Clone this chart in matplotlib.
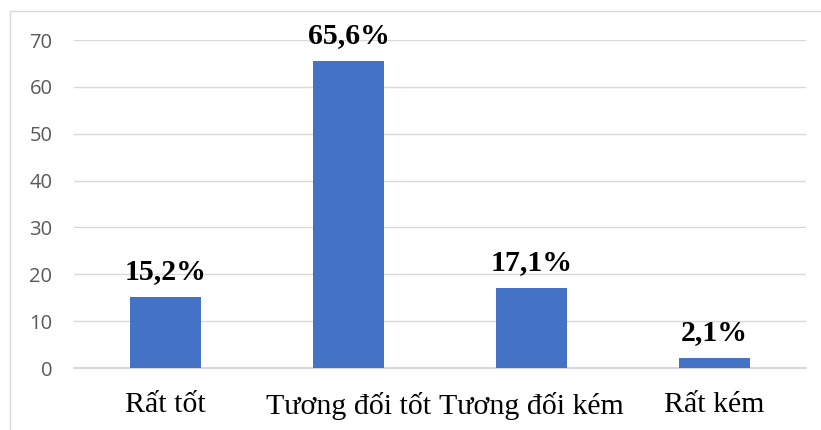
import matplotlib.pyplot as plt
from matplotlib.patches import Rectangle

categories = ['Rất tốt', 'Tương đối tốt', 'Tương đối kém', 'Rất kém']
values = [15.2, 65.6, 17.1, 2.1]
labels = ['15,2%', '65,6%', '17,1%', '2,1%']
yticks = [0, 10, 20, 30, 40, 50, 60, 70]

fig = plt.figure(figsize=(8.21, 4.30), dpi=100)
ax = fig.add_axes([74 / 821, 1 - 368 / 430, 732 / 821, 328 / 430])

x = list(range(len(categories)))
ax.bar(x, values, width=0.39, color='#4472C4', zorder=3)
for xi, v, lab in zip(x, values, labels):
    ax.annotate(lab, (xi, v), xytext=(0, 13), textcoords='offset points',
                ha='center', va='baseline', fontsize=21.5, fontweight='bold',
                family='Liberation Serif', color='black')

ax.set_xlim(-0.5, len(categories) - 0.5)
ax.set_ylim(0, 70)
ax.set_yticks(yticks)
ax.set_yticklabels([str(t) for t in yticks], fontsize=14.5, color='#595959',
                   family='Open Sans')
ax.set_xticks(x)
ax.set_xticklabels(categories, fontsize=21.5, family='Liberation Serif')
ax.tick_params(axis='both', length=0)
ax.tick_params(axis='y', pad=15.5)
ax.tick_params(axis='x', pad=17)
ax.grid(axis='y', color='#d9d9d9', linewidth=1, zorder=0)
for s in ['top', 'right', 'left']:
    ax.spines[s].set_visible(False)
ax.spines['bottom'].set_color('#d9d9d9')
ax.spines['bottom'].set_linewidth(1.5)

fig.patches.append(Rectangle((10 / 821, -0.1), 1.0, 1 - 11 / 430 + 0.1,
                             transform=fig.transFigure, fill=False,
                             edgecolor='#d9d9d9', linewidth=1))

fig.savefig('out.png', dpi=100)
